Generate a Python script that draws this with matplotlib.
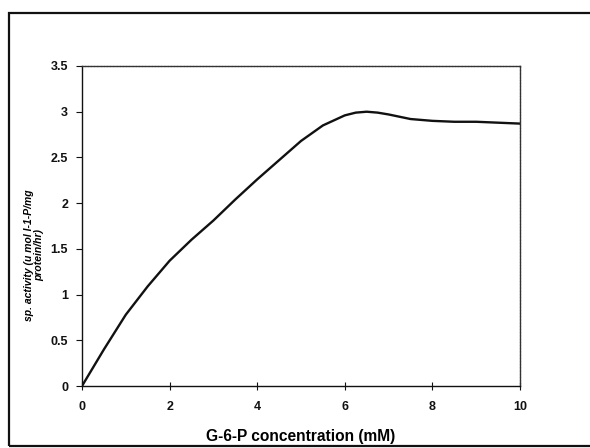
import matplotlib
matplotlib.use("Agg")
import matplotlib.pyplot as plt
from matplotlib.patches import Rectangle

# Data
g6p_mM = [0, 0.5, 1, 1.5, 2, 2.5, 3, 3.5, 4, 4.5, 5, 5.5, 6, 6.25, 6.5, 6.75, 7, 7.5, 8, 8.5, 9, 9.5, 10]
sp_activity = [0, 0.40, 0.78, 1.09, 1.37, 1.60, 1.81, 2.04, 2.26, 2.47, 2.68, 2.85, 2.96, 2.99, 3.00, 2.99, 2.97, 2.92, 2.90, 2.89, 2.89, 2.88, 2.87]

x_ticks = [0, 2, 4, 6, 8, 10]
y_ticks = [0, 0.5, 1, 1.5, 2, 2.5, 3, 3.5]
x_tick_labels = ["0", "2", "4", "6", "8", "10"]
y_tick_labels = ["0", "0.5", "1", "1.5", "2", "2.5", "3", "3.5"]

plt.rcParams['font.family'] = ['Liberation Sans', 'DejaVu Sans']

W, H = 590, 448
fig = plt.figure(figsize=(W / 100, H / 100), dpi=100)
fig.patch.set_facecolor("white")

# outer chart border
fig.add_artist(Rectangle((9 / W, 1 - 446 / H), (W + 20) / W, (446 - 13) / H,
                         transform=fig.transFigure, fill=False,
                         edgecolor="#111111", linewidth=1.6))

left, right, bottom, top = 82, 520, 386, 66
ax = fig.add_axes([left / W, 1 - bottom / H, (right - left) / W, (bottom - top) / H])
ax.plot(g6p_mM, sp_activity, color="#111111", linewidth=1.7,
        solid_capstyle="round", solid_joinstyle="round")

ax.set_xlim(0, 10)
ax.set_ylim(0, 3.5)
ax.set_xticks(x_ticks)
ax.set_xticklabels(x_tick_labels, fontsize=9, fontweight="bold")
ax.set_yticks(y_ticks)
ax.set_yticklabels(y_tick_labels, fontsize=9, fontweight="bold")
ax.tick_params(axis="y", direction="out", length=4, width=0.8, pad=6, colors="#111111")
ax.tick_params(axis="x", direction="inout", length=6, width=0.8, pad=8, colors="#111111")

for s in ["top", "right"]:
    ax.spines[s].set_linestyle((0, (1.5, 0.8)))
    ax.spines[s].set_linewidth(1.0)
    ax.spines[s].set_color("#333333")
for s in ["left", "bottom"]:
    ax.spines[s].set_linewidth(1.0)
    ax.spines[s].set_color("#111111")

ax.set_xlabel("G-6-P concentration (mM)", fontsize=11.2, fontweight="bold", labelpad=11)

fig.text(34 / W, 1 - 255 / H, "sp. activity (u mol I-1-P/mg\nprotein/hr)",
         rotation=90, ha="center", va="center", fontsize=7.5,
         fontweight="bold", fontstyle="italic", linespacing=0.95)

fig.savefig("out.png", dpi=100, facecolor="white")
